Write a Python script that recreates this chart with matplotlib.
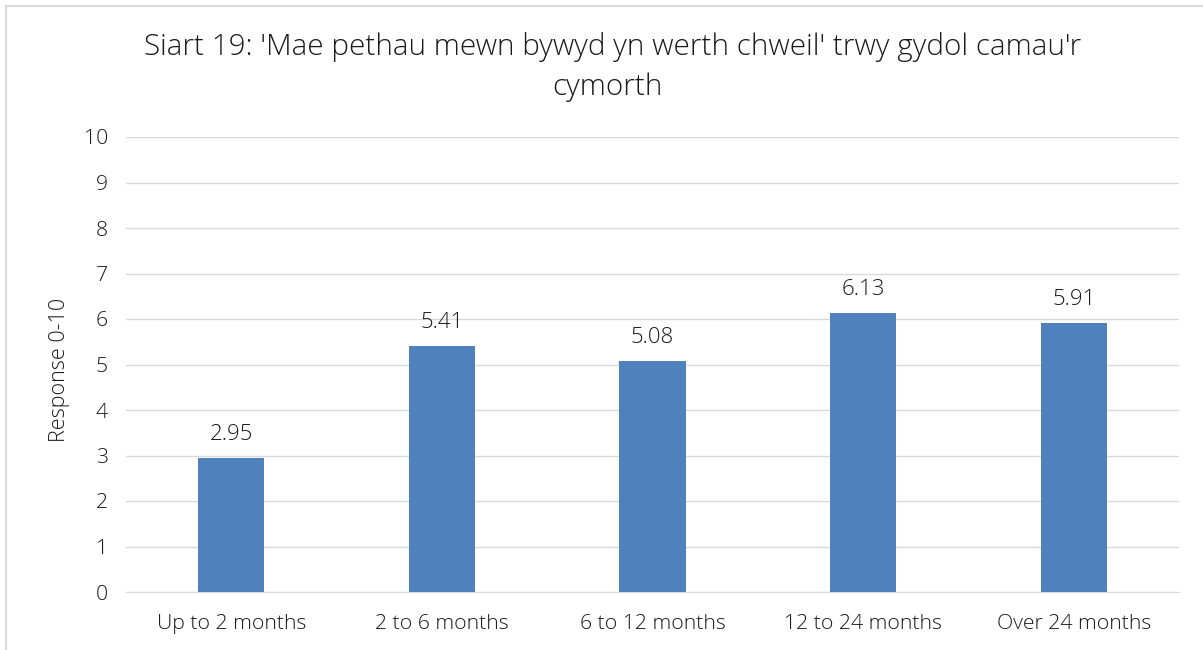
import matplotlib
matplotlib.use("Agg")
import matplotlib.pyplot as plt
from matplotlib.patches import Rectangle

categories = ["Up to 2 months", "2 to 6 months", "6 to 12 months", "12 to 24 months", "Over 24 months"]
values = [2.95, 5.41, 5.08, 6.13, 5.91]
yticks = list(range(0, 11))
title = "Siart 19: 'Mae pethau mewn bywyd yn werth chweil' trwy gydol camau'r\ncymorth"
ylabel = "Response 0-10"

plt.rcParams['font.family'] = ['Open Sans', 'DejaVu Sans']
plt.rcParams['font.weight'] = 'light'
txt = '#1a1a1a'

fig = plt.figure(figsize=(12.03, 6.5), dpi=100)
fig.patches.append(Rectangle((6/1203, -0.05), 1.2, 1 - 6/650 + 0.05, transform=fig.transFigure,
                             fill=False, edgecolor='#d9d9d9', linewidth=1.5))
ax = fig.add_axes([126/1203, 1 - 592/650, (1179 - 126)/1203, (592 - 137)/650])
x = range(len(categories))
bars = ax.bar(x, values, width=0.315, color='#4f81bd', zorder=3)
for xi, v in zip(x, values):
    ax.text(xi, v + 0.28, f"{v:.2f}", ha='center', va='bottom', fontsize=16, color=txt, fontweight='light')
ax.set_xlim(-0.5, len(categories) - 0.5)
ax.set_ylim(0, 10)
ax.set_yticks(yticks)
ax.set_xticks(list(x))
ax.set_xticklabels(categories)
ax.tick_params(axis='both', length=0, labelsize=15.3, colors=txt)
ax.tick_params(axis='y', pad=13)
ax.tick_params(axis='x', pad=16)
ax.grid(axis='y', color='#d9d9d9', linewidth=1, zorder=0)
for s in ['top', 'right', 'left']:
    ax.spines[s].set_visible(False)
ax.spines['bottom'].set_color('#d9d9d9')
ax.set_ylabel(ylabel, fontsize=15.5, color=txt, fontweight='light')
ax.yaxis.set_label_coords(-(126 - 70)/1053, 0.5 - 5/455)
fig.text(613/1203, 1 - 47/650, title.split("\n")[0], ha='center', va='center', fontsize=21.3, color=txt, fontweight='light')
fig.text(607/1203, 1 - 87/650, title.split("\n")[1], ha='center', va='center', fontsize=21.3, color=txt, fontweight='light')
fig.savefig("out.png", dpi=100)
